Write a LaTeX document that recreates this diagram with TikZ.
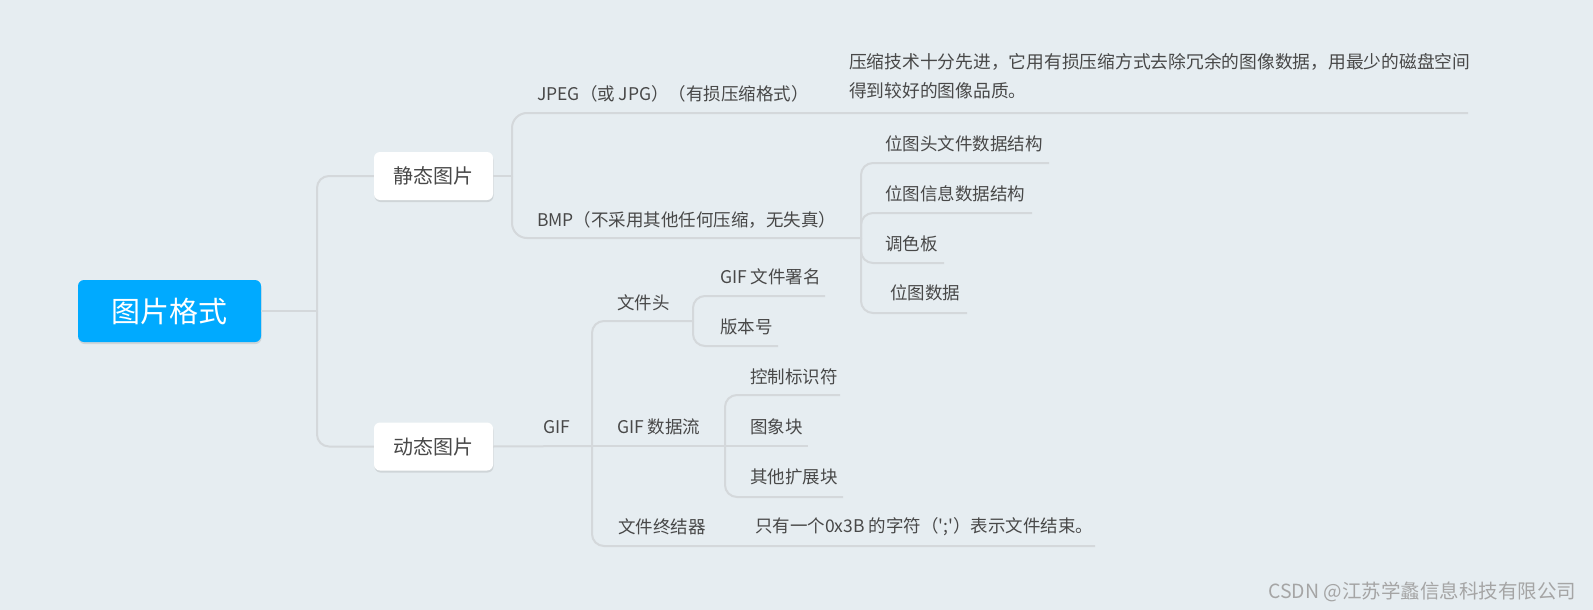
\documentclass[tikz,border=0pt]{standalone}
\usepackage{fontspec}
\setmainfont{Noto Sans CJK SC}[Ligatures=TeXOff]
\usetikzlibrary{shadows}
\definecolor{bgc}{RGB}{230,237,241}
\definecolor{rootblue}{RGB}{0,170,255}
\definecolor{connc}{RGB}{212,216,219}
\definecolor{txt}{RGB}{72,72,72}
\definecolor{wmc}{RGB}{165,165,165}
\begin{document}
\begin{tikzpicture}[x=1pt,y=-1pt,
  line/.style={draw=connc,line width=2pt},
  lbl/.style={anchor=west,inner sep=0pt,text=txt,font=\fontsize{17.5}{20}\selectfont},
  topic/.style={fill=white,rounded corners=6pt,minimum width=119pt,minimum height=48pt,inner sep=0pt,text=txt,
    font=\fontsize{20}{24}\selectfont,drop shadow={opacity=0.22,shadow xshift=0.5pt,shadow yshift=-2pt}},
  rootbox/.style={fill=rootblue,rounded corners=6pt,minimum width=183pt,minimum height=62pt,inner sep=0pt,text=white,
    font=\fontsize{29}{34}\selectfont,drop shadow={opacity=0.22,shadow xshift=0.5pt,shadow yshift=-2pt}},
]
\fill[bgc] (0,0) rectangle (1593,610);
\useasboundingbox (0,0) rectangle (1593,610);

% main nodes
\node[rootbox] (root) at (169.5,311) {图片格式};
\node[topic] (s1) at (433.5,176) {静态图片};
\node[topic] (s2) at (433.5,446.5) {动态图片};

\coordinate (t) at (317,311);
\draw[line] (root.east) -- (t);
\draw[line,rounded corners=12pt] (t) |- (s1.west);
\draw[line,rounded corners=12pt] (t) |- (s2.west);

% static branch
\coordinate (j1) at (512,176);
\coordinate (jpegU) at (835,113);
\coordinate (jpegE) at (1468,113);
\coordinate (bmpJ) at (861,238);
\draw[line] (s1.east) -- (j1);
\draw[line,rounded corners=15pt] (j1) |- (jpegU) -- (jpegE);
\draw[line,rounded corners=15pt] (j1) |- (bmpJ);

\node[lbl] (jpeg) at (537,94) {JPEG（或 JPG）（有损压缩格式）};
\node[lbl,align=left,font=\fontsize{17.75}{29}\selectfont] (jdesc) at (849,76.5) {压缩技术十分先进，它用有损压缩方式去除冗余的图像数据，用最少的磁盘空间\\得到较好的图像品质。};
\node[lbl] (bmp) at (537,220) {BMP（不采用其他任何压缩，无失真）};

\coordinate (b1e) at (1049,163);
\coordinate (b2e) at (1032,213);
\coordinate (b3e) at (944,263);
\coordinate (b4e) at (967,313);
\foreach \e in {b1e,b2e,b3e,b4e}
  \draw[line,rounded corners=12pt] (bmpJ) |- (\e);
\node[lbl] (b1) at (885,144) {位图头文件数据结构};
\node[lbl] (b2) at (885,194) {位图信息数据结构};
\node[lbl] (b3) at (885,244) {调色板};
\node[lbl] (b4) at (890,293) {位图数据};

% dynamic branch
\coordinate (gj) at (592,446);
\coordinate (fhJ) at (693,321);
\coordinate (dsJ) at (725,446);
\coordinate (endU) at (740,546);
\coordinate (endE) at (1095,546);
\draw[line] (s2.east) -- (gj);
\draw[line,rounded corners=12pt] (gj) |- (fhJ);
\draw[line] (gj) -- (dsJ);
\draw[line,rounded corners=12pt] (gj) |- (endU) -- (endE);

\node[lbl] (gif) at (543,427) {GIF};
\node[lbl] (fh) at (617,303) {文件头};
\node[lbl] (ds) at (617,427) {GIF 数据流};
\node[lbl] (fe) at (618,527) {文件终结器};
\node[lbl] (fedesc) at (755,527) {只有一个0x3B 的字符（';'）表示文件结束。};

\coordinate (h1e) at (825,296);
\coordinate (h2e) at (778,346);
\draw[line,rounded corners=12pt] (fhJ) |- (h1e);
\draw[line,rounded corners=12pt] (fhJ) |- (h2e);
\node[lbl] (h1) at (720,277) {GIF 文件署名};
\node[lbl] (h2) at (720,327) {版本号};

\coordinate (d1e) at (840,395);
\coordinate (d2e) at (808,446);
\coordinate (d3e) at (843,497);
\draw[line,rounded corners=12pt] (dsJ) |- (d1e);
\draw[line] (dsJ) -- (d2e);
\draw[line,rounded corners=12pt] (dsJ) |- (d3e);
\node[lbl] (d1) at (750,377) {控制标识符};
\node[lbl] (d2) at (750,427) {图象块};
\node[lbl] (d3) at (750,477) {其他扩展块};

% watermark
\node[anchor=west,inner sep=0pt,text=wmc,font=\fontsize{19.5}{22}\selectfont] (wm) at (1268,592) {CSDN @江苏学蠡信息科技有限公司};
\end{tikzpicture}
\end{document}
